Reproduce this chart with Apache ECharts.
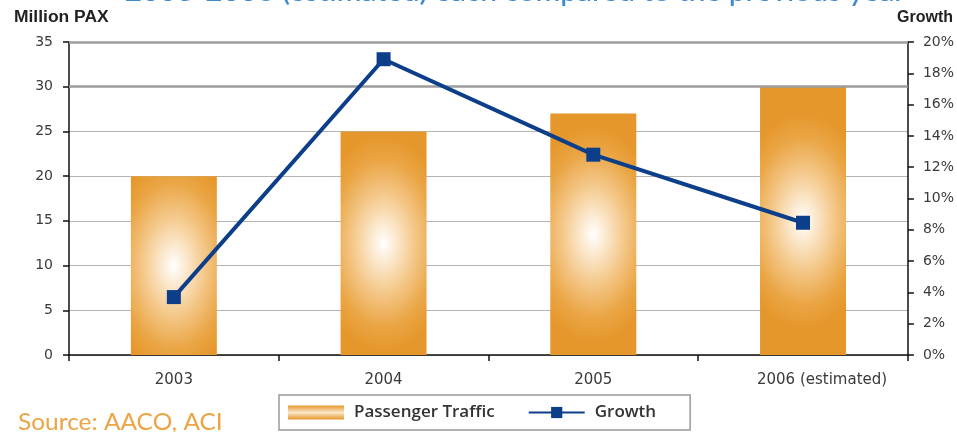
<!DOCTYPE html>
<html>
<head>
<meta charset="utf-8">
<script src="https://cdn.jsdelivr.net/npm/echarts@6/dist/echarts.min.js"></script>
<style>
  html, body { margin: 0; padding: 0; background: #ffffff; }
  #chart { width: 957px; height: 432px; }
</style>
</head>
<body>
<div id="chart"></div>
<script>
// Passenger traffic (million PAX) and year-on-year growth (%)
const years = ['2003', '2004', '2005', '2006 (estimated)'];
const passengerTraffic = [20, 25, 27, 30];
const growthPct = [3.7, 18.9, 12.8, 8.45];
const titleText = '2003-2006 (estimated) each compared to the previous year';
const sourceText = 'Source: AACO, ACI';

const ORANGE = '#e6972c';
const NAVY = '#0c3e89';
const AXIS_FONT = '"DejaVu Sans", "Liberation Sans", sans-serif';
const LABEL_FONT = 'Lato, "Open Sans", sans-serif';
const BAR_RATIO = 0.41;     // bar width as a share of the category band
const GLOW_STRETCH = 1.6;   // vertical stretch of the glow inside each bar

// glow fill, defined in the bar's unstretched local box
const barGlow = () => new echarts.graphic.RadialGradient(0.5, 0.5, 0.78, [
  { offset: 0, color: '#ffffff' },
  { offset: 0.15, color: '#fcedd8' },
  { offset: 0.46, color: '#f4c88a' },
  { offset: 0.78, color: '#eaa544' },
  { offset: 1, color: ORANGE }
]);

const legendBarFill = new echarts.graphic.LinearGradient(0, 0, 0, 1, [
  { offset: 0, color: ORANGE },
  { offset: 0.5, color: '#fbe7c9' },
  { offset: 1, color: ORANGE }
]);

// bars with an elliptical glow: the rect is drawn in a squashed local box
// and stretched back to full height, which stretches the gradient too
function renderGlowBar(params, api) {
  const cat = api.value(0);
  const val = api.value(1);
  const top = api.coord([cat, val]);
  const base = api.coord([cat, 0]);
  const w = api.size([1, 0])[0] * BAR_RATIO;
  const h = base[1] - top[1];
  return {
    type: 'rect',
    x: top[0] - w / 2,
    y: top[1],
    scaleY: GLOW_STRETCH,
    shape: { x: 0, y: 0, width: w, height: h / GLOW_STRETCH },
    style: { fill: barGlow() }
  };
}

// the long last label sits a little right of its category centre
const categoryLabels = years.map((name, i) =>
  i === years.length - 1 ? { value: name, textStyle: { padding: [0, 0, 0, 38] } } : name
);

const chart = echarts.init(document.getElementById('chart'), null, { renderer: 'canvas' });

chart.setOption({
  animation: false,
  backgroundColor: '#ffffff',
  grid: { left: 69, right: 49, top: 42, bottom: 77, containLabel: false },
  graphic: [
    {
      type: 'text', x: 515, y: -7.5, scaleX: 1.15,
      style: { text: titleText, fill: '#3f89cf', font: '500 26px ' + LABEL_FONT, align: 'center', verticalAlign: 'middle' },
      silent: true
    },
    {
      type: 'text', x: 14, y: 18, scaleX: 1.09,
      style: { text: 'Million PAX', fill: '#222', font: 'bold 16px "Liberation Sans", sans-serif', verticalAlign: 'middle' }
    },
    {
      type: 'text', x: 953, y: 18,
      style: { text: 'Growth', fill: '#222', font: 'bold 16px "Liberation Sans", sans-serif', verticalAlign: 'middle', align: 'right' }
    },
    {
      type: 'text', x: 18, y: 422, scaleX: 1.02,
      style: { text: sourceText, fill: '#eca445', font: '24px ' + LABEL_FONT, verticalAlign: 'middle' }
    }
  ],
  legend: {
    left: 279, top: 395,
    padding: [9, 34, 9, 9],
    itemGap: 33,
    borderColor: '#9a9a9a', borderWidth: 1.5,
    itemWidth: 56, itemHeight: 14,
    textStyle: { fontFamily: '"Open Sans", sans-serif', fontSize: 17, fontWeight: 600, color: '#333', padding: [0, 0, 0, 5] },
    data: [
      { name: 'Passenger Traffic', icon: 'rect', itemStyle: { color: legendBarFill } },
      { name: 'Growth' }
    ]
  },
  xAxis: {
    type: 'category',
    data: categoryLabels,
    boundaryGap: true,
    axisLine: { lineStyle: { color: '#111', width: 1.5 } },
    axisTick: { show: true, length: 6, lineStyle: { color: '#111', width: 1.5 } },
    axisLabel: { color: '#3a3a3a', fontFamily: AXIS_FONT, fontSize: 15, margin: 18 }
  },
  yAxis: [
    {
      type: 'value', min: 0, max: 35, interval: 5,
      axisLine: { show: true, lineStyle: { color: '#111', width: 1.5 } },
      axisTick: { show: true, length: 6, lineStyle: { color: '#111', width: 1.5 } },
      axisLabel: { color: '#3a3a3a', fontFamily: AXIS_FONT, fontSize: 14, margin: 16 },
      splitLine: { show: true, lineStyle: { color: '#b4b4b4', width: 1.2 } }
    },
    {
      type: 'value', min: 0, max: 20, interval: 2,
      position: 'right',
      axisLine: { show: true, lineStyle: { color: '#111', width: 1.5 } },
      axisTick: { show: true, length: 6, lineStyle: { color: '#111', width: 1.5 } },
      axisLabel: { color: '#3a3a3a', fontFamily: AXIS_FONT, fontSize: 14, margin: 15, formatter: '{value}%' },
      splitLine: { show: false }
    }
  ],
  series: [
    {
      name: 'Passenger Traffic',
      type: 'custom',
      yAxisIndex: 0,
      data: passengerTraffic.map((v, i) => [i, v]),
      encode: { x: 0, y: 1 },
      renderItem: renderGlowBar,
      itemStyle: { color: ORANGE },
      z: 2,
      markLine: {
        silent: true, symbol: 'none', label: { show: false },
        lineStyle: { color: '#9d9d9d', width: 2.5, type: 'solid' },
        // heavier rules at 30 and 35 million PAX
        data: [{ yAxis: 30 }, { yAxis: 35 }]
      }
    },
    {
      name: 'Growth',
      type: 'line',
      yAxisIndex: 1,
      data: growthPct,
      symbol: 'rect',
      symbolSize: 14,
      lineStyle: { color: NAVY, width: 4 },
      itemStyle: { color: NAVY },
      z: 5
    }
  ]
});
</script>
</body>
</html>
